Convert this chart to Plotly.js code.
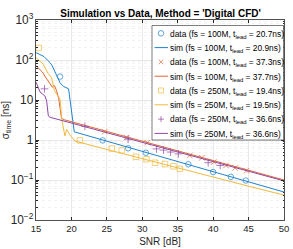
<!DOCTYPE html>
<html>
<head>
<meta charset="utf-8">
<script src="https://cdn.plot.ly/plotly-3.0.1.min.js"></script>
<style>html,body{margin:0;padding:0;background:#fff;}#chart{width:293px;height:249px;}</style>
</head>
<body>
<div id="chart"></div>
<script>
// ---- data ----
const names = [
  "data (fs = 100M, t<sub>lead</sub> = 20.7ns)",
  "sim (fs = 100M, t<sub>lead</sub> = 20.9ns)",
  "data (fs = 100M, t<sub>lead</sub> = 37.3ns)",
  "sim (fs = 100M, t<sub>lead</sub> = 37.7ns)",
  "data (fs = 250M, t<sub>lead</sub> = 19.4ns)",
  "sim (fs = 250M, t<sub>lead</sub> = 19.5ns)",
  "data (fs = 250M, t<sub>lead</sub> = 36.6ns)",
  "sim (fs = 250M, t<sub>lead</sub> = 36.6ns)"
];

const data100a_x = [18.4, 24.4, 28.0, 30.5, 36.5, 40.0, 42.5, 44.6];
const data100a_y = [38.5, 0.98, 0.62, 0.48, 0.247, 0.158, 0.12, 0.097];

const sim100a_x = [15, 15.56, 16.13, 16.6, 16.98, 17.3, 17.58, 17.92, 18.39, 18.85, 19.33, 19.6, 20.4, 25, 30, 35, 40, 45, 50];
const sim100a_y = [153, 139, 122, 100, 86, 71, 54, 40, 27, 22, 20, 19, 1.6, 0.93, 0.52, 0.29, 0.164, 0.092, 0.05];

const data100b_x = [24.7, 27.8, 30.7, 36.7, 38.4, 40.1, 41.8, 43.1, 44.7];
const data100b_y = [1.62, 1.15, 0.86, 0.41, 0.36, 0.28, 0.23, 0.20, 0.17];

const sim100b_x = [15, 15.4, 15.9, 16.4, 16.9, 17.3, 17.6, 17.9, 18.2, 18.4, 18.6, 19.0, 25, 30, 35, 40, 45, 50];
const sim100b_y = [72, 62, 50, 36, 27, 21, 23, 17, 11, 6.5, 3.5, 3.2, 1.64, 0.93, 0.53, 0.30, 0.17, 0.10];

const data250a_x = [15.4, 21.2, 25.7, 27.1, 29.1, 30.6, 31.8, 33.2, 34.4, 35.3];
const data250a_y = [200, 0.98, 0.61, 0.55, 0.38, 0.33, 0.27, 0.25, 0.22, 0.19];

const sim250a_x = [15, 15.56, 16.0, 16.4, 16.7, 17.2, 17.6, 18.39, 18.67, 19.09, 19.33, 19.7, 20.5, 25, 30, 35, 40, 45, 50];
const sim250a_y = [115, 94, 79, 59, 46, 36, 17, 10.5, 3, 1.26, 1.85, 1.4, 0.94, 0.58, 0.34, 0.2, 0.12, 0.07, 0.042];

const data250b_x = [16.2, 21.9, 28.0, 32.0, 33.0, 34.0, 35.1, 39.3, 41.0];
const data250b_y = [19, 2.2, 1.05, 0.6, 0.56, 0.5, 0.45, 0.27, 0.23];

const sim250b_x = [15, 15.56, 16.27, 16.5, 16.74, 16.98, 20, 25, 30, 35, 40, 45, 50];
const sim250b_y = [28, 16, 12.5, 9.5, 4, 3.7, 2.65, 1.52, 0.87, 0.50, 0.29, 0.165, 0.095];

const xTicks = [15, 20, 25, 30, 35, 40, 45, 50];

// ---- styles ----
const C = ["#1f84cc", "#df6533", "#eebb3f", "#8f48a2"];
const kinds = ["circle", "line", "x", "line", "square", "line", "cross", "line"];
const kindColor = [C[0], C[0], C[1], C[1], C[2], C[2], C[3], C[3]];

const mk = (x, y, name, color, symbol) => ({
  x, y, name, type: "scatter", mode: "markers", showlegend: false,
  marker: {symbol, size: 5.5, color: color, line: {color, width: 0.7}}
});
const ln = (x, y, name, color) => ({
  x, y, name, type: "scatter", mode: "lines", showlegend: false,
  line: {color, width: 1.0}
});

const traces = [
  mk(data100a_x, data100a_y, names[0], C[0], "circle-open"),
  ln(sim100a_x, sim100a_y, names[1], C[0]),
  mk(data100b_x, data100b_y, names[2], C[1], "x-thin-open"),
  ln(sim100b_x, sim100b_y, names[3], C[1]),
  mk(data250a_x, data250a_y, names[4], C[2], "square-open"),
  ln(sim250a_x, sim250a_y, names[5], C[2]),
  mk(data250b_x, data250b_y, names[6], C[3], "cross-thin-open"),
  ln(sim250b_x, sim250b_y, names[7], C[3])
];

// ---- hand-made legend (compact, MATLAB-like) ----
const L = 36, R = 284, T = 20, B = 220;
const px = v => (v - L) / (R - L);
const py = v => (B - v) / (B - T);
const shapes = [{
  type: "rect", xref: "paper", yref: "paper",
  x0: px(152), x1: px(283.5), y0: py(140), y1: py(25.5),
  line: {color: "#262626", width: 0.6}, fillcolor: "#fff", layer: "above"
}];
const annotations = [];
names.forEach((nm, i) => {
  const cy = 33.3 + 14.3 * i;
  const col = kindColor[i];
  const k = kinds[i];
  const base = {xref: "paper", yref: "paper", xsizemode: "pixel", ysizemode: "pixel",
                xanchor: px(161), yanchor: py(cy), layer: "above"};
  if (k === "line") {
    shapes.push({type: "line", xref: "paper", yref: "paper", x0: px(154.5), x1: px(168), y0: py(cy), y1: py(cy),
                 line: {color: col, width: 1.0}, layer: "above"});
  } else if (k === "circle") {
    shapes.push(Object.assign({type: "circle", x0: -2.8, x1: 2.8, y0: -2.8, y1: 2.8, line: {color: col, width: 0.7}}, base));
  } else if (k === "square") {
    shapes.push(Object.assign({type: "rect", x0: -2.5, x1: 2.5, y0: -2.5, y1: 2.5, line: {color: col, width: 0.7}}, base));
  } else if (k === "x") {
    shapes.push(Object.assign({type: "path", path: "M-2.3,-2.3L2.3,2.3M-2.3,2.3L2.3,-2.3", line: {color: col, width: 0.7}}, base));
  } else if (k === "cross") {
    shapes.push(Object.assign({type: "path", path: "M-3,0L3,0M0,-3L0,3", line: {color: col, width: 0.7}}, base));
  }
  annotations.push({
    xref: "paper", yref: "paper", x: px(169), y: py(cy + 0.8), xanchor: "left", yanchor: "middle",
    text: nm, showarrow: false, font: {size: 8.4, color: "#000", family: "Liberation Sans, Arial, sans-serif"},
    borderpad: 0
  });
});

const axisCommon = {
  showline: true, linecolor: "#262626", linewidth: 0.8, mirror: "ticks",
  ticks: "inside", ticklen: 3, tickcolor: "#262626",
  showgrid: true, gridcolor: "#e3e3e3", gridwidth: 0.8,
  zeroline: false,
  tickfont: {family: "Liberation Sans, Arial, sans-serif", size: 9.5, color: "#262626"}
};

const layout = {
  width: 293, height: 249,
  margin: {l: 36, r: 9, t: 20, b: 29},
  paper_bgcolor: "#fff", plot_bgcolor: "#fff",
  font: {family: "Liberation Sans, Arial, sans-serif", color: "#262626"},
  title: {
    text: "<b>Simulation vs Data, Method = 'Digital CFD'</b>",
    font: {size: 10, color: "#000"},
    x: 0.548, xanchor: "center", y: 0.947, yanchor: "middle", yref: "container"
  },
  xaxis: Object.assign({}, axisCommon, {
    range: [15, 50], tickvals: xTicks, ticktext: xTicks.map(String),
    title: {text: "SNR [dB]", font: {size: 10, color: "#262626"}, standoff: 4}
  }),
  yaxis: Object.assign({}, axisCommon, {
    type: "log", range: [-2, 3], dtick: 1, exponentformat: "power",
    minor: {dtick: "D1", showgrid: true, gridcolor: "#efefef", griddash: "dot", ticks: "inside", ticklen: 1.5, tickcolor: "#262626"},
    title: {text: "σ<sub>time</sub> [ns]", font: {size: 10, color: "#262626"}, standoff: 2}
  }),
  showlegend: false,
  shapes, annotations
};

Plotly.newPlot("chart", traces, layout, {displayModeBar: false, staticPlot: true});
</script>
</body>
</html>
